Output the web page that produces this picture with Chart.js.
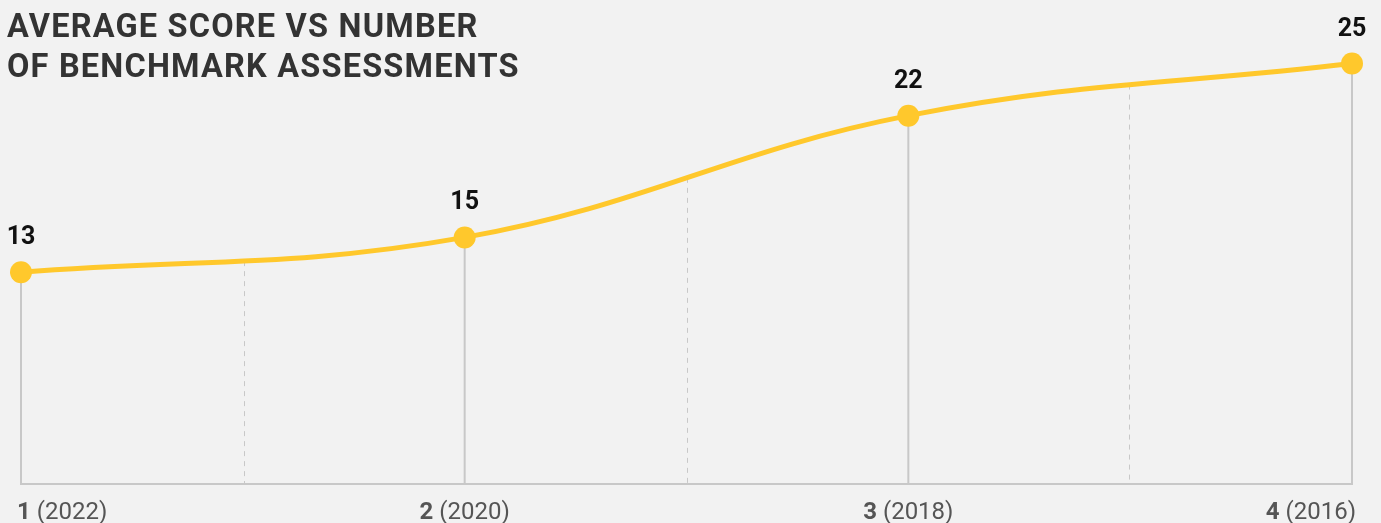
<!DOCTYPE html>
<html>
<head>
<meta charset="utf-8">
<script src="https://cdn.jsdelivr.net/npm/chart.js@4"></script>
<style>
  html, body { margin: 0; padding: 0; background: #f2f2f2; }
  #wrap { width: 1381px; height: 523px; position: relative; }
</style>
</head>
<body>
<div id="wrap"><canvas id="c" width="1381" height="523"></canvas></div>
<script>
const titleLines = ["AVERAGE SCORE VS NUMBER", "OF BENCHMARK ASSESSMENTS"];
const assessmentNumbers = ["1", "2", "3", "4"];
const assessmentYears = ["(2022)", "(2020)", "(2018)", "(2016)"];
const averageScores = [13, 15, 22, 25];

const LINE_COLOR = "#FFC82C";
const GRID_COLOR = "#c8c8c8";
const FONT = "Roboto, 'Open Sans', sans-serif";

const decorPlugin = {
  id: "decor",
  beforeDatasetsDraw(chart) {
    const ctx = chart.ctx;
    const area = chart.chartArea;
    const meta = chart.getDatasetMeta(0);
    if (meta.dataset && meta.dataset.updateControlPoints) {
      meta.dataset.updateControlPoints(area, "x");
    }
    const pts = meta.data;
    ctx.save();
    ctx.strokeStyle = GRID_COLOR;
    ctx.lineWidth = 2;
    ctx.beginPath();
    ctx.moveTo(pts[0].x - 1, area.bottom);
    ctx.lineTo(pts[pts.length - 1].x + 1, area.bottom);
    ctx.stroke();
    pts.forEach(p => {
      ctx.beginPath();
      ctx.moveTo(p.x, p.y);
      ctx.lineTo(p.x, area.bottom);
      ctx.stroke();
    });
    ctx.lineWidth = 1;
    ctx.setLineDash([5, 5]);
    for (let i = 0; i < pts.length - 1; i++) {
      const a = pts[i], b = pts[i + 1];
      const p1x = a.cp2x ?? a.x, p1y = a.cp2y ?? a.y;
      const p2x = b.cp1x ?? b.x, p2y = b.cp1y ?? b.y;
      const mx = 0.125 * a.x + 0.375 * p1x + 0.375 * p2x + 0.125 * b.x;
      const my = 0.125 * a.y + 0.375 * p1y + 0.375 * p2y + 0.125 * b.y;
      const x = Math.round(mx) + 0.5;
      ctx.beginPath();
      ctx.moveTo(x, my);
      ctx.lineTo(x, area.bottom);
      ctx.stroke();
    }
    ctx.restore();
  },
  afterDatasetsDraw(chart) {
    const ctx = chart.ctx;
    const area = chart.chartArea;
    const meta = chart.getDatasetMeta(0);
    const xScale = chart.scales.x;
    ctx.save();
    ctx.fillStyle = "#111111";
    ctx.font = "bold 25px " + FONT;
    ctx.textAlign = "center";
    ctx.textBaseline = "alphabetic";
    meta.data.forEach((p, i) => {
      ctx.fillText(String(averageScores[i]), p.x, p.y - 28);
    });
    const n = assessmentNumbers.length;
    ctx.fillStyle = "#555555";
    const TS = 24;
    for (let i = 0; i < n; i++) {
      const x = xScale.getPixelForValue(i);
      const bold = assessmentNumbers[i];
      const rest = " " + assessmentYears[i];
      ctx.font = "bold " + TS + "px " + FONT;
      const wb = ctx.measureText(bold).width;
      ctx.font = TS + "px " + FONT;
      const wr = ctx.measureText(rest).width;
      const total = wb + wr;
      let start;
      if (i === 0) start = x - 4;
      else if (i === n - 1) start = x + 4 - total;
      else start = x - total / 2;
      ctx.textAlign = "left";
      ctx.font = "bold " + TS + "px " + FONT;
      ctx.fillText(bold, start, area.bottom + 35);
      ctx.font = TS + "px " + FONT;
      ctx.fillText(rest, start + wb, area.bottom + 35);
    }
    ctx.fillStyle = "#333333";
    ctx.font = "bold 32.5px " + FONT;
    ctx.letterSpacing = "1.2px";
    ctx.textAlign = "left";
    titleLines.forEach((t, i) => {
      ctx.fillText(t, 7, 37 + i * 40);
    });
    ctx.restore();
  }
};

new Chart(document.getElementById("c"), {
  type: "line",
  data: {
    labels: assessmentNumbers.map((n, i) => n + " " + assessmentYears[i]),
    datasets: [{
      data: averageScores,
      borderColor: LINE_COLOR,
      backgroundColor: LINE_COLOR,
      borderWidth: 5,
      pointRadius: 11,
      pointBorderWidth: 0,
      pointBackgroundColor: LINE_COLOR,
      tension: 0.4,
      fill: false,
      clip: false
    }]
  },
  options: {
    responsive: false,
    animation: false,
    devicePixelRatio: 1,
    layout: { padding: { left: 21, right: 29, top: 63.5, bottom: 39 } },
    plugins: { legend: { display: false }, tooltip: { enabled: false }, title: { display: false } },
    scales: {
      x: { type: "category", display: false, offset: false },
      y: { type: "linear", display: false, min: 0.82, max: 25 }
    }
  },
  plugins: [decorPlugin]
});
</script>
</body>
</html>
